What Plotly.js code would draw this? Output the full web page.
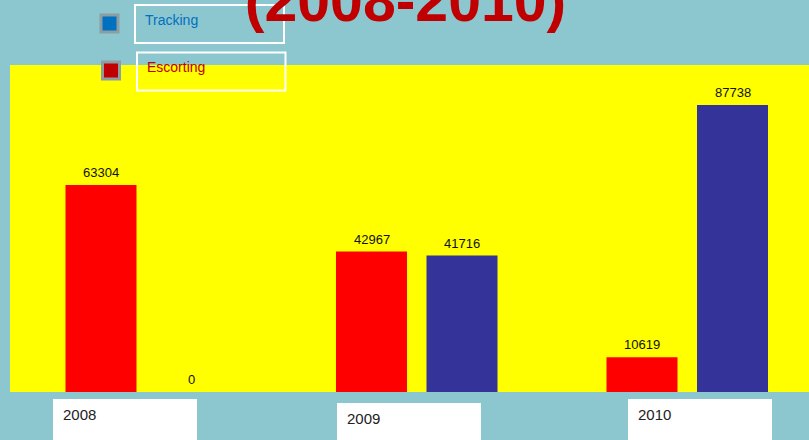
<!DOCTYPE html>
<html><head><meta charset="utf-8">
<script src="https://cdn.plot.ly/plotly-3.0.1.min.js"></script>
<style>html,body{margin:0;padding:0;background:#8CC6CE;}#chart{width:809px;height:440px;}</style>
</head><body><div id="chart"></div>
<script>
var categories = ['2008', '2009', '2010'];
var tracking = [0, 41716, 87738];
var escorting = [63304, 42967, 10619];
var seriesNames = ['Tracking', 'Escorting'];
var titleText = '(2008-2010)';

var W = 809, H = 440, L = 10, T = 65, B = 48;
var plotW = W - L, plotH = H - T - B;
function px(x) { return (x - L) / plotW; }
function py(y) { return (H - B - y) / plotH; }

var barW = 0.2625, half = 0.1673;
var x0 = -0.5 - 1 / 270.5;
var traces = [
  {type: 'bar', name: seriesNames[1], x: categories, y: escorting, width: barW, offset: -half - barW / 2,
   marker: {color: '#FF0000'}, hoverinfo: 'none'},
  {type: 'bar', name: seriesNames[0], x: categories, y: tracking, width: barW, offset: half - barW / 2,
   marker: {color: '#333399'}, hoverinfo: 'none'}
];

var annotations = [];
categories.forEach(function (c, i) {
  annotations.push({x: i - half, y: escorting[i], xref: 'x', yref: 'y', yshift: 3,
    text: String(escorting[i]), showarrow: false, yanchor: 'bottom', xanchor: 'center',
    font: {family: 'Liberation Sans, Arial', size: 13, color: '#111'}});
  annotations.push({x: i + half, y: tracking[i], xref: 'x', yref: 'y', yshift: 3,
    text: String(tracking[i]), showarrow: false, yanchor: 'bottom', xanchor: 'center',
    font: {family: 'Liberation Sans, Arial', size: 13, color: '#111'}});
});

// tick label boxes (pixel positions)
var tickBoxes = [[53, 399, 61], [337, 403, 345], [628, 399, 636]];
var shapes = [];
categories.forEach(function (c, i) {
  var b = tickBoxes[i];
  shapes.push({type: 'rect', xref: 'paper', yref: 'paper', x0: px(b[0]), x1: px(b[0] + 144),
    y0: py(b[1]), y1: py(460), fillcolor: '#FFFFFF', line: {width: 0}, layer: 'above'});
  annotations.push({xref: 'paper', yref: 'paper', x: px(b[2]), y: py(b[1] + 15.5), xanchor: 'left', yanchor: 'middle',
    text: c, showarrow: false, font: {family: 'Liberation Sans, Arial', size: 15, color: '#222'}});
});

// legend
var legendItems = [
  {name: seriesNames[0], sq: [99.5, 13.5], box: [135, 5, 284, 43], tx: 143, ty: 20, fill: '#0070C0', color: '#0070C0'},
  {name: seriesNames[1], sq: [101, 60.5], box: [137, 52.5, 285.5, 90.5], tx: 145, ty: 67, fill: '#C00000', color: '#C00000'}
];
legendItems.forEach(function (it) {
  shapes.push({type: 'rect', xref: 'paper', yref: 'paper', x0: px(it.sq[0] + 1.5), x1: px(it.sq[0] + 18.5),
    y0: py(it.sq[1] + 18.5), y1: py(it.sq[1] + 1.5), fillcolor: it.fill, line: {color: '#8C9EA4', width: 3}, layer: 'above'});
  shapes.push({type: 'rect', xref: 'paper', yref: 'paper', x0: px(it.box[0]), x1: px(it.box[2]),
    y0: py(it.box[3]), y1: py(it.box[1]), fillcolor: 'rgba(0,0,0,0)', line: {color: '#FFFFFF', width: 2}, layer: 'above'});
  annotations.push({xref: 'paper', yref: 'paper', x: px(it.tx), y: py(it.ty), xanchor: 'left', yanchor: 'middle',
    text: it.name, showarrow: false, font: {family: 'Liberation Sans, Arial', size: 14, color: it.color}});
});

var layout = {
  width: W, height: H,
  margin: {l: L, r: 0, t: T, b: B, pad: 0},
  paper_bgcolor: '#8CC6CE', plot_bgcolor: '#FFFF00',
  showlegend: false,
  barmode: 'overlay',
  title: {text: titleText, x: 0.5 - 4 / W, xref: 'paper', xanchor: 'center', y: 1, yref: 'container', yanchor: 'middle',
    font: {family: 'Liberation Sans, Arial', size: 59, color: '#C00000', weight: 'bold'}},
  xaxis: {type: 'category', range: [x0, x0 + plotW / 270.5], showticklabels: false, ticks: '', showgrid: false, zeroline: false, showline: false, fixedrange: true},
  yaxis: {range: [0, 100000], showticklabels: false, ticks: '', showgrid: false, zeroline: false, showline: false, fixedrange: true},
  shapes: shapes,
  annotations: annotations
};
Plotly.newPlot('chart', traces, layout, {displayModeBar: false, staticPlot: true});
</script></body></html>
